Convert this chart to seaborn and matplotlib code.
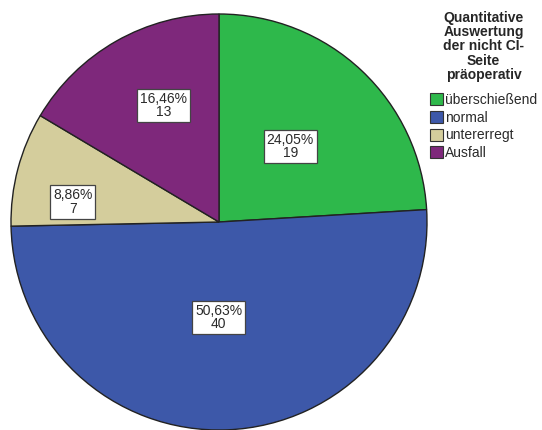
import matplotlib
matplotlib.use("Agg")
import matplotlib.pyplot as plt
from matplotlib.patches import Patch
import numpy as np
import seaborn as sns

# Category labels, counts and slice colours
categories = ["überschießend", "normal", "untererregt", "Ausfall"]
counts = [19, 40, 7, 13]
percent_labels = ["24,05%", "50,63%", "8,86%", "16,46%"]
colors = ["#2eb84b", "#3d58a9", "#d4cd9c", "#7e287b"]
legend_title = "Quantitative\nAuswertung\nder nicht CI-\nSeite\npräoperativ"

sns.set_theme(style="white")
plt.rcParams["font.family"] = ["Liberation Sans", "DejaVu Sans"]

W, H = 542, 430
fig = plt.figure(figsize=(W / 100, H / 100), dpi=100)
ax = fig.add_axes([0, 0, 1, 1])

cx, cy, r = 219, H - 222, 208
wedges, _ = ax.pie(
    counts,
    colors=colors,
    startangle=90,
    counterclock=False,
    center=(cx, cy),
    radius=r,
    frame=True,
    wedgeprops=dict(edgecolor="#222222", linewidth=1.0),
)
ax.set_xlim(0, W)
ax.set_ylim(0, H)
ax.set_aspect("equal")
ax.axis("off")

# Value boxes sit inside each wedge at these fractions of the radius
label_radius = [0.50, 0.46, 0.71, 0.62]
label_shift = [0, -2.5, 7, -4]  # small angular offsets in degrees
for w, pct, n, fr, sh in zip(wedges, percent_labels, counts, label_radius, label_shift):
    mid = np.deg2rad((w.theta1 + w.theta2) / 2 + sh)
    x = cx + fr * r * np.cos(mid)
    y = cy + fr * r * np.sin(mid)
    ax.text(x, y, f"{pct}\n{n}", ha="center", va="center", fontsize=10,
            color="#2a2a2a", linespacing=0.95,
            bbox=dict(boxstyle="square,pad=0.22", facecolor="white",
                      edgecolor="#444444", linewidth=0.9))

handles = [Patch(facecolor=c, edgecolor="#333333", linewidth=0.8) for c in colors]
leg = fig.legend(handles, categories, title=legend_title,
                 loc="upper left", bbox_to_anchor=(430 / W, 1 - 11 / H),
                 frameon=False, fontsize=10, title_fontsize=10,
                 handlelength=0.95, handleheight=0.95, handletextpad=0.15,
                 labelspacing=0.27, borderpad=0, borderaxespad=0)
# extra gap between the title block and the entries
leg._legend_box.sep = 8
t = leg.get_title()
t.set_fontweight("bold")
t.set_multialignment("center")
t.set_linespacing(1.02)
for txt in leg.get_texts():
    txt.set_color("#2a2a2a")

fig.savefig("out.png", dpi=100)
